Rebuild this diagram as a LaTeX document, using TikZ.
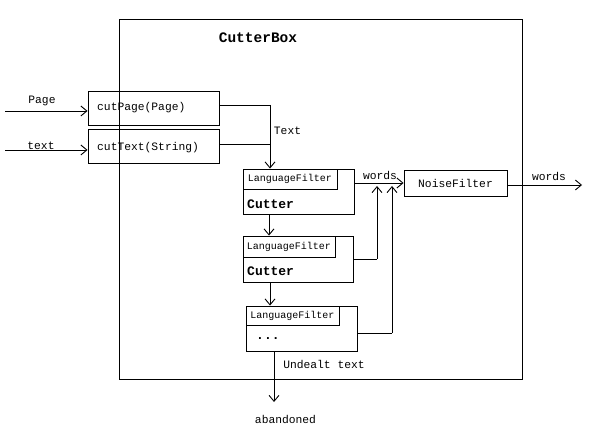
\documentclass[tikz,border=0pt]{standalone}
\usepackage{fontspec}
\setmainfont{Liberation Mono}
\setmonofont{Liberation Mono}
\usetikzlibrary{arrows.meta}
\begin{document}
\begin{tikzpicture}[x=1pt,y=-1pt,
  box/.style={draw,line width=0.9pt,inner sep=0pt,anchor=center},
  lbl/.style={inner sep=0pt,font=\fontsize{11.3}{13}\selectfont},
  lftext/.style={font=\fontsize{10}{12}\selectfont},
  cuttxt/.style={inner sep=0pt,anchor=west,font=\fontsize{13}{15}\selectfont\bfseries},
  conn/.style={line width=0.9pt},
  arr/.style={line width=0.9pt,-{Straight Barb[length=6pt,width=10pt]}}]
\useasboundingbox (0,0) rectangle (596,435);
\fill[white] (0,0) rectangle (596,435);
% outer box
\node[box,minimum width=403pt,minimum height=360pt] (outer) at (320.5,199) {};
\node[inner sep=0pt,font=\fontsize{14.5}{16}\selectfont\bfseries] (title) at (258,38) {CutterBox};
% cut boxes
\node[box,minimum width=131pt,minimum height=34pt] (cutpage) at (153.5,108) {};
\node[lbl,anchor=west] (cutpagetxt) at (97,108) {cutPage(Page)};
\node[box,minimum width=131pt,minimum height=34pt] (cuttext) at (153.5,146) {};
\node[lbl,anchor=west] (cuttexttxt) at (97,147.5) {cutText(String)};
% cutter 1
\node[box,minimum width=111pt,minimum height=45pt] (c1) at (298.5,191.5) {};
\node[box,minimum width=94pt,minimum height=20pt,lftext] (lf1) at (290,179) {LanguageFilter};
\node[cuttxt] (cut1) at (247,204) {Cutter};
% cutter 2
\node[box,minimum width=110pt,minimum height=46pt] (c2) at (298,259) {};
\node[box,minimum width=92pt,minimum height=21pt,lftext] (lf2) at (289,246.5) {LanguageFilter};
\node[cuttxt] (cut2) at (247,271) {Cutter};
% cutter 3
\node[box,minimum width=111pt,minimum height=45pt] (c3) at (301.5,328.5) {};
\node[box,minimum width=93pt,minimum height=19pt,lftext] (lf3) at (292.5,315.5) {LanguageFilter};
\node[cuttxt] (cut3) at (256,339) {...};
% noise filter
\node[box,minimum width=103pt,minimum height=26pt,lbl] (noise) at (455.5,183) {NoiseFilter};
% inputs
\coordinate (pin) at (5,111);
\coordinate (tin) at (5,150);
\draw[arr] (pin) -- (pin -| cutpage.west);
\draw[arr] (tin) -- (tin -| cuttext.west);
\node[lbl] (pagelbl) at (42,101) {Page};
\node[lbl] (textlbl) at (41,146) {text};
% join to cutter 1
\coordinate (j1) at (270,105);
\coordinate (j2) at (270,144);
\draw[conn] (j1 -| cutpage.east) -- (j1);
\draw[conn] (j2 -| cuttext.east) -- (j2);
\draw[arr] (j1) -- (j1 |- c1.north);
\node[lbl] (textlbl2) at (287.5,131) {Text};
% chain
\coordinate (k1) at (269,0);
\coordinate (k2) at (270,0);
\coordinate (k3) at (274,0);
\draw[arr] (k1 |- c1.south) -- (k1 |- c2.north);
\draw[arr] (k2 |- c2.south) -- (k2 |- c3.north);
\coordinate (ab) at (274,402);
\draw[arr] (k3 |- c3.south) -- (ab);
\node[lbl] (undealt) at (324,364) {Undealt text};
\node[lbl] (aband) at (285.5,419) {abandoned};
% words
\draw[arr] (c1.east |- noise.west) -- (noise.west);
\node[lbl] (words1) at (380,175) {words};
\coordinate (v2) at (377,259);
\coordinate (v3) at (392,333);
\coordinate (v2t) at (377,186);
\coordinate (v3t) at (392,186);
\draw[conn] (v2 -| c2.east) -- (v2);
\draw[arr] (v2) -- (v2t);
\draw[conn] (v3 -| c3.east) -- (v3);
\draw[arr] (v3) -- (v3t);
% output
\coordinate (out) at (582,185);
\draw[arr] (noise.east |- out) -- (out);
\node[lbl] (words2) at (549,176) {words};
\end{tikzpicture}
\end{document}
